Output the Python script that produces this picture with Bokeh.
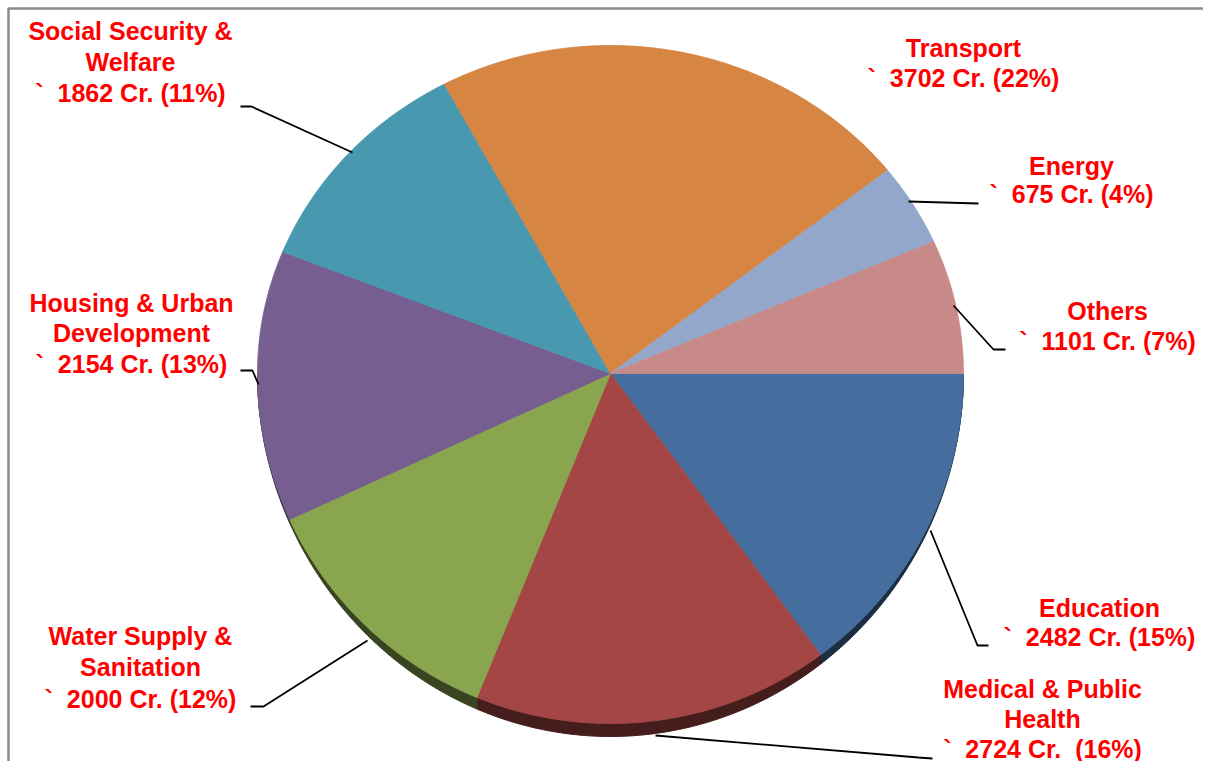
import numpy as np
from bokeh.plotting import figure
from bokeh.models import Range1d, BoxAnnotation
from bokeh.core.properties import value
from bokeh.embed import file_html
from bokeh.resources import INLINE

# ---- data ----
categories = ["Education", "Medical & Public Health", "Water Supply & Sanitation",
              "Housing & Urban Development", "Social Security & Welfare",
              "Transport", "Energy", "Others"]
amounts = [2482, 2724, 2000, 2154, 1862, 3702, 675, 1101]
percents = [15, 16, 12, 13, 11, 22, 4, 7]
colors = ["#456E9E", "#A44645", "#89A54E", "#765E91", "#4898AF", "#D68543", "#93A7CA", "#C88A89"]
NB = "\u00a0"
label_lines = [
    ["Education", "`" + NB * 2 + "2482 Cr. (15%)"],
    ["Medical & Public", "Health", "`" + NB * 2 + "2724 Cr." + NB * 2 + "(16%)"],
    ["Water Supply &", "Sanitation", "`" + NB * 2 + "2000 Cr. (12%)"],
    ["Housing & Urban", "Development", "`" + NB * 2 + "2154 Cr. (13%)"],
    ["Social Security &", "Welfare", "`" + NB * 2 + "1862 Cr. (11%)"],
    ["Transport", "`" + NB * 2 + "3702 Cr. (22%)"],
    ["Energy", "`" + NB * 2 + "675 Cr. (4%)"],
    ["Others", "`" + NB * 2 + "1101 Cr. (7%)"],
]

# ---- layout (screen-like coordinates) ----
W, H = 1203, 761
cx, cy = 610.0, 373.0
rx, ry_top, ry_bot = 353.0, 328.0, 350.0
depth = 13.0

label_pos = [  # (center x, first-line y, line spacing)
    (1099, 607, 29),
    (1042, 688, 30),
    (140, 635, 31.5),
    (131, 302, 30.5),
    (130, 30, 31),
    (963, 47, 30),
    (1071, 165, 28),
    (1107, 310, 30),
]
leaders = [
    [(930, 530), (977, 645), (988, 645)],
    [(655, 735), (918, 757), (932, 758)],
    [(367, 640), (263, 706), (250, 706)],
    [(258, 384), (252, 370), (240, 370)],
    [(352, 152), (251, 106), (240, 106)],
    None,
    [(908, 201), (978, 203)],
    [(953, 305), (993, 349), (1005, 349)],
]

p = figure(width=W, height=H, x_range=Range1d(0, W), y_range=Range1d(H, 0),
           output_backend="svg", toolbar_location=None, min_border=0)
p.axis.visible = False
p.grid.visible = False
p.outline_line_color = None
p.background_fill_color = "white"
p.border_fill_color = "white"
p.add_layout(BoxAnnotation(left=8, top=8, right=W + 20, bottom=H + 20,
                           fill_alpha=0, line_color="#8A8A8A", line_alpha=1.0,
                           line_width=2.5))


def darken(hexc, f=0.42):
    r, g, b = int(hexc[1:3], 16), int(hexc[3:5], 16), int(hexc[5:7], 16)
    return "#%02x%02x%02x" % (int(r * f), int(g * f), int(b * f))


def ell(t):
    t = np.asarray(t)
    ry = np.where(np.sin(t) > 0, ry_top, ry_bot)
    return cx + rx * np.cos(t), cy - ry * np.sin(t)


total = float(sum(amounts))
cum = np.concatenate([[0.0], np.cumsum(amounts)]) / total
starts = -cum[:-1] * 2 * np.pi
ends = -cum[1:] * 2 * np.pi

# sides (3D edge)
side_xs, side_ys, side_cols = [], [], []
for a0, a1, c in zip(starts, ends, colors):
    lo, hi = min(a0, a1), max(a0, a1)
    lo2, hi2 = max(lo, -np.pi), min(hi, 0.0)
    if hi2 <= lo2:
        continue
    t = np.linspace(lo2, hi2, 80)
    x, y = ell(t)
    d = depth * np.abs(np.sin(t)) ** 1.5
    side_xs.append(list(x) + list(x[::-1]))
    side_ys.append(list(y) + list((y + d)[::-1]))
    side_cols.append(darken(c))
p.patches(side_xs, side_ys, fill_color=side_cols, line_color=side_cols, line_width=1)

# tops
top_xs, top_ys = [], []
for a0, a1 in zip(starts, ends):
    t = np.linspace(a0, a1, 120)
    x, y = ell(t)
    top_xs.append([cx] + list(x))
    top_ys.append([cy] + list(y))
p.patches(top_xs, top_ys, fill_color=colors, line_color=colors, line_width=0.8)

# leader lines
for pts in leaders:
    if pts is None:
        continue
    p.line([q[0] for q in pts], [q[1] for q in pts], line_color="black", line_width=1.8)

# labels
tx, ty, tt = [], [], []
for lines, (lx, ly, sp) in zip(label_lines, label_pos):
    for k, s in enumerate(lines):
        tx.append(lx)
        ty.append(ly + k * sp)
        tt.append(s)
p.text(tx, ty, text=tt, text_align="center", text_baseline="middle",
       text_font=value("Liberation Sans"), text_font_style="bold",
       text_font_size="25px", text_color="#FF0000")

open("out.html", "w").write(file_html(p, INLINE))
